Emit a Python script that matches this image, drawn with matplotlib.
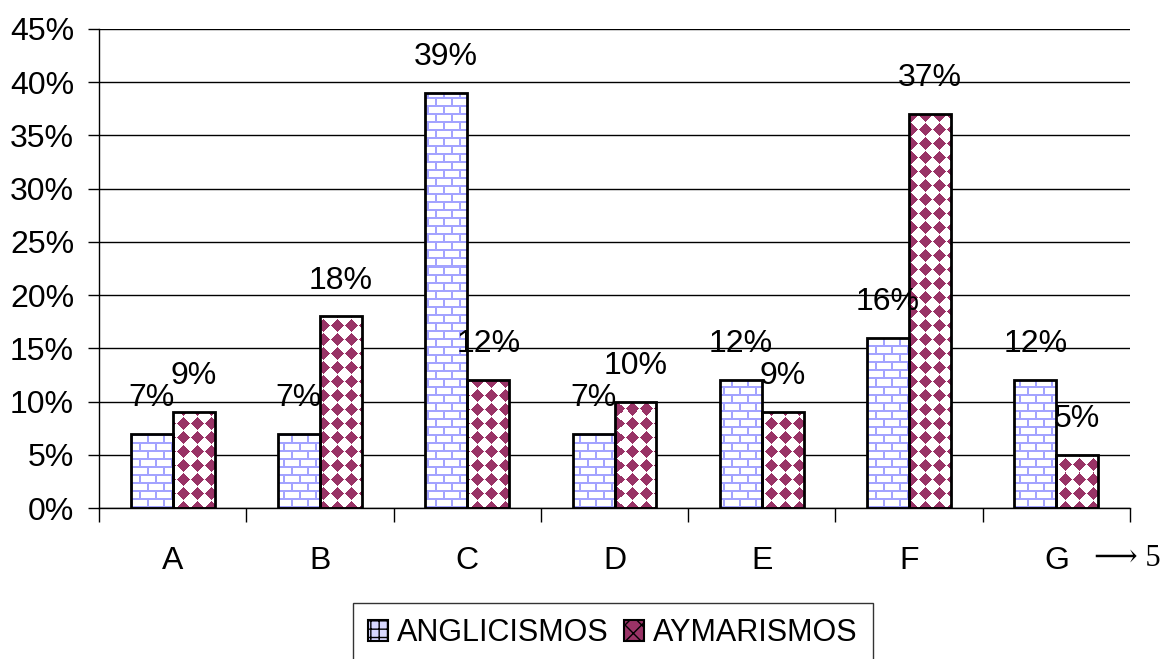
import numpy as np
import matplotlib
matplotlib.use("Agg")
import matplotlib.pyplot as plt
from matplotlib.patches import Patch
from matplotlib.ticker import FixedLocator, PercentFormatter

plt.rcParams["font.family"] = ["Liberation Sans", "DejaVu Sans"]

categorias = ["A", "B", "C", "D", "E", "F", "G"]
anglicismos = [7, 7, 39, 7, 12, 16, 12]
aymarismos = [9, 18, 12, 10, 9, 37, 5]
series = ["ANGLICISMOS", "AYMARISMOS"]

AZUL = "#a3a3ff"
GRANATE = "#993366"
W = 0.285
FS = 23

fig = plt.figure(figsize=(11.61, 6.59), dpi=100)
ax = fig.add_axes([0.0853, 0.2291, 0.888, 0.7269])
x = np.arange(len(categorias))
ax.set_xlim(-0.5, len(categorias) - 0.5)
ax.set_ylim(0, 45)

# texturas (ladrillo y rombos) a resolucion de pixel de los ejes
fig.canvas.draw()
bb = ax.get_window_extent()
wpx, hpx = int(round(bb.width)), int(round(bb.height))
yy, xx = np.mgrid[0:hpx, 0:wpx]

ladrillo = np.ones((hpx, wpx, 3))
fila = yy // 8
linea_h = (yy % 8) < 2
linea_v = ((xx + (fila % 2) * 8) % 16) < 2
ladrillo[linea_h | linea_v] = np.array(matplotlib.colors.to_rgb(AZUL))

rombos = np.ones((hpx, wpx, 3))
dx = np.abs(((xx + 7) % 14) - 7)
dy = np.abs(((yy + 7) % 14) - 7)
rombos[(dx + dy) < 6.5] = np.array(matplotlib.colors.to_rgb(GRANATE))

extent = (-0.5, len(categorias) - 0.5, 0, 45)


def barras(pos, vals, textura):
    bars = ax.bar(pos, vals, W, facecolor="none", edgecolor="black",
                  linewidth=2, zorder=3)
    for b in bars:
        im = ax.imshow(textura, extent=extent, origin="lower",
                       interpolation="nearest", aspect="auto", zorder=2)
        im.set_clip_path(b)
    return bars


b1 = barras(x - W / 2, anglicismos, ladrillo)
b2 = barras(x + W / 2, aymarismos, rombos)

for bars, vals in ((b1, anglicismos), (b2, aymarismos)):
    for b, v in zip(bars, vals):
        ax.annotate(f"{v}%", (b.get_x() + b.get_width() / 2, v),
                    xytext=(0, 15), textcoords="offset points",
                    ha="center", va="bottom", fontsize=FS, zorder=4)

ax.set_xlim(-0.5, len(categorias) - 0.5)
ax.set_ylim(0, 45)

ax.yaxis.set_major_locator(FixedLocator(np.arange(0, 46, 5)))
ax.yaxis.set_major_formatter(PercentFormatter(decimals=0))
ax.grid(axis="y", color="black", linewidth=1, zorder=1)
ax.tick_params(axis="y", labelsize=FS, length=8, width=1, pad=10)

ax.xaxis.set_major_locator(FixedLocator(np.arange(-0.5, len(categorias), 1)))
ax.xaxis.set_major_formatter(plt.NullFormatter())
ax.set_xticks(x, categorias, minor=True)
ax.tick_params(axis="x", which="major", length=10, width=1)
ax.tick_params(axis="x", which="minor", length=0, labelsize=FS, pad=27)

for s in ("top", "right"):
    ax.spines[s].set_visible(False)
ax.spines["left"].set_linewidth(1)
ax.spines["bottom"].set_linewidth(1)
ax.set_axisbelow(True)

fig.text(0.942, 0.153, "\u27f6 5", fontsize=22,
         family=["Liberation Serif", "DejaVu Serif"], ha="left", va="center")

handles = [Patch(facecolor="#d8d8ff", edgecolor="black", hatch="++", linewidth=1.5),
           Patch(facecolor=GRANATE, edgecolor="black", hatch="xx", linewidth=1.5)]
leg = fig.legend(handles, series, loc="upper center",
                 bbox_to_anchor=(0.528, 0.085), ncol=2, fontsize=22,
                 frameon=True, fancybox=False, edgecolor="black",
                 handlelength=0.65, handleheight=0.65, handletextpad=0.3,
                 columnspacing=0.5, borderpad=0.5, borderaxespad=0)
leg.get_frame().set_linewidth(1)

fig.savefig("out.png", dpi=100)
